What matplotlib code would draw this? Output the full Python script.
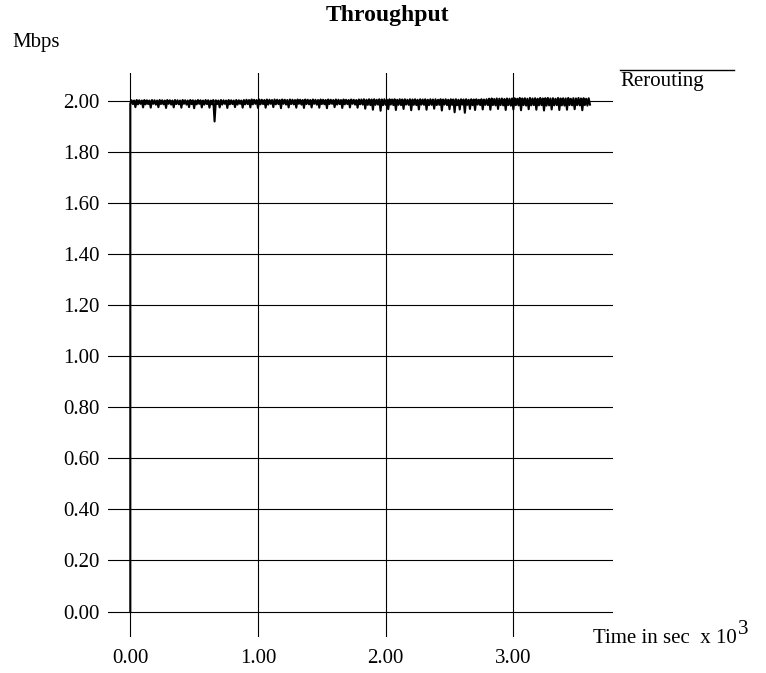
import numpy as np
import matplotlib
matplotlib.use("Agg")
import matplotlib.pyplot as plt
from matplotlib.lines import Line2D

plt.rcParams['font.family'] = ['Liberation Serif', 'DejaVu Serif']

# Data: throughput in Mbps, time in sec x 10^3
startTime = [0.0, 0.0]
startRate = [0.0, 1.99]
timeStep = 0.01
rate = [
    2.003, 1.988, 2.002, 1.976, 2.004, 1.987, 2.003, 1.989, 2.002, 1.975,
    2.004, 1.987, 2.003, 1.988, 2.002, 1.974, 2.004, 1.989, 2.003, 1.986,
    2.002, 1.976, 2.004, 1.988, 2.003, 1.987, 2.002, 1.973, 2.004, 1.989,
    2.003, 1.986, 2.002, 1.975, 2.004, 1.988, 2.003, 1.987, 2.002, 1.974,
    2.004, 1.989, 2.003, 1.986, 2.002, 1.976, 2.004, 1.988, 2.003, 1.972,
    2.002, 1.987, 2.004, 1.989, 2.003, 1.975, 2.002, 1.986, 2.004, 1.988,
    2.003, 1.974, 2.002, 1.987, 2.004, 1.920, 2.003, 1.988, 2.002, 1.975,
    2.004, 1.986, 2.003, 1.989, 2.002, 1.973, 2.004, 1.987, 2.003, 1.988,
    2.002, 1.976, 2.004, 1.986, 2.003, 1.989, 2.002, 1.974, 2.004, 1.987,
    2.005, 1.988, 2.004, 1.975, 2.006, 1.987, 2.005, 1.989, 2.004, 1.973,
    2.006, 1.987, 2.005, 1.988, 2.004, 1.974, 2.006, 1.986, 2.005, 1.989,
    2.004, 1.976, 2.006, 1.987, 2.005, 1.988, 2.004, 1.972, 2.006, 1.989,
    2.005, 1.986, 2.004, 1.975, 2.006, 1.988, 2.005, 1.987, 2.004, 1.974,
    2.006, 1.989, 2.005, 1.986, 2.004, 1.973, 2.006, 1.988, 2.005, 1.987,
    2.004, 1.975, 2.006, 1.989, 2.005, 1.986, 2.004, 1.974, 2.006, 1.988,
    2.005, 1.987, 2.004, 1.972, 2.006, 1.988, 2.005, 1.989, 2.004, 1.976,
    2.006, 1.986, 2.005, 1.988, 2.004, 1.973, 2.006, 1.987, 2.005, 1.988,
    2.004, 1.975, 2.006, 1.989, 2.005, 1.986, 2.004, 1.974, 2.006, 1.987,
    2.006, 1.986, 2.007, 1.970, 2.005, 1.985, 2.007, 1.984, 2.006, 1.966,
    2.007, 1.985, 2.005, 1.986, 2.007, 1.962, 2.006, 1.984, 2.007, 1.985,
    2.005, 1.968, 2.007, 1.986, 2.006, 1.984, 2.007, 1.965, 2.005, 1.985,
    2.007, 1.984, 2.006, 1.969, 2.007, 1.986, 2.005, 1.985, 2.007, 1.964,
    2.006, 1.985, 2.007, 1.984, 2.005, 1.967, 2.007, 1.986, 2.006, 1.985,
    2.007, 1.966, 2.005, 1.984, 2.007, 1.985, 2.006, 1.970, 2.007, 1.984,
    2.005, 1.985, 2.007, 1.963, 2.006, 1.986, 2.007, 1.984, 2.005, 1.968,
    2.007, 1.985, 2.006, 1.956, 2.007, 1.984, 2.005, 1.967, 2.007, 1.986,
    2.006, 1.954, 2.007, 1.985, 2.005, 1.969, 2.007, 1.984, 2.006, 1.965,
    2.007, 1.986, 2.005, 1.984, 2.007, 1.967, 2.006, 1.985, 2.007, 1.984,
    2.009, 1.966, 2.010, 1.984, 2.008, 1.983, 2.010, 1.969, 2.009, 1.984,
    2.010, 1.983, 2.008, 1.965, 2.010, 1.984, 2.009, 1.982, 2.010, 1.967,
    2.011, 1.984, 2.009, 1.983, 2.012, 1.964, 2.010, 1.984, 2.011, 1.982,
    2.009, 1.968, 2.012, 1.983, 2.010, 1.984, 2.011, 1.966, 2.009, 1.983,
    2.012, 1.984, 2.010, 1.963, 2.011, 1.982, 2.012, 1.983, 2.010, 1.967,
    2.011, 1.983, 2.009, 1.984, 2.012, 1.965, 2.010, 1.983, 2.011, 1.982,
    2.010, 1.966, 2.012, 1.984, 2.009, 1.983, 2.011, 1.968, 2.010, 1.984,
    2.012, 1.983, 2.010, 1.964, 2.011, 1.984, 2.009, 1.982, 2.011, 1.986,
]
yTicks = [0.0, 0.2, 0.4, 0.6, 0.8, 1.0, 1.2, 1.4, 1.6, 1.8, 2.0]
xTicks = [0.0, 1.0, 2.0, 3.0]

times = startTime + list(timeStep * np.arange(1, len(rate) + 1))
values = startRate + rate

W, H = 766, 673
fig = plt.figure(figsize=(W / 100, H / 100), dpi=100)

def fx(px):
    return px / W

def fy(py):
    return 1 - py / H

ax = fig.add_axes([fx(107.7), fy(636.7), 505 / W, 564 / H])
ax.set_xlim(-0.177, 3.778)
ax.set_ylim(-0.0987, 2.111)
for s in ax.spines.values():
    s.set_visible(False)

ax.set_xticks(xTicks)
ax.set_xticklabels(['%.2f' % v for v in xTicks])
ax.set_yticks(yTicks)
ax.set_yticklabels(['%.2f' % v for v in yTicks])
ax.tick_params(axis='both', length=0, labelsize=15)
ax.tick_params(axis='y', pad=6)
ax.tick_params(axis='x', pad=9)
ax.grid(True, color='black', linewidth=0.8)
ax.set_axisbelow(True)

ax.plot(times, values, color='black', linewidth=1.5, clip_on=False)

# labels and legend
fig.text(fx(388), fy(16), 'Throughput', ha='center', va='center',
         fontsize=17, fontweight='bold')
fig.text(fx(12), fy(43), 'Mbps', ha='left', va='center', fontsize=15)
fig.add_artist(Line2D([fx(620), fx(734)], [fy(70), fy(70)],
                      color='black', linewidth=1))
fig.text(fx(620), fy(86), 'Rerouting', ha='left', va='baseline', fontsize=15)
xl = fig.text(fx(593), fy(643), 'Time in sec  x 10', ha='left',
              va='baseline', fontsize=15)
fig.canvas.draw()
bb = xl.get_window_extent()
fig.text(bb.x1 / W + 1.5 / W, fy(634), '3', ha='left', va='baseline',
         fontsize=15)

fig.savefig('out.png', dpi=100)
